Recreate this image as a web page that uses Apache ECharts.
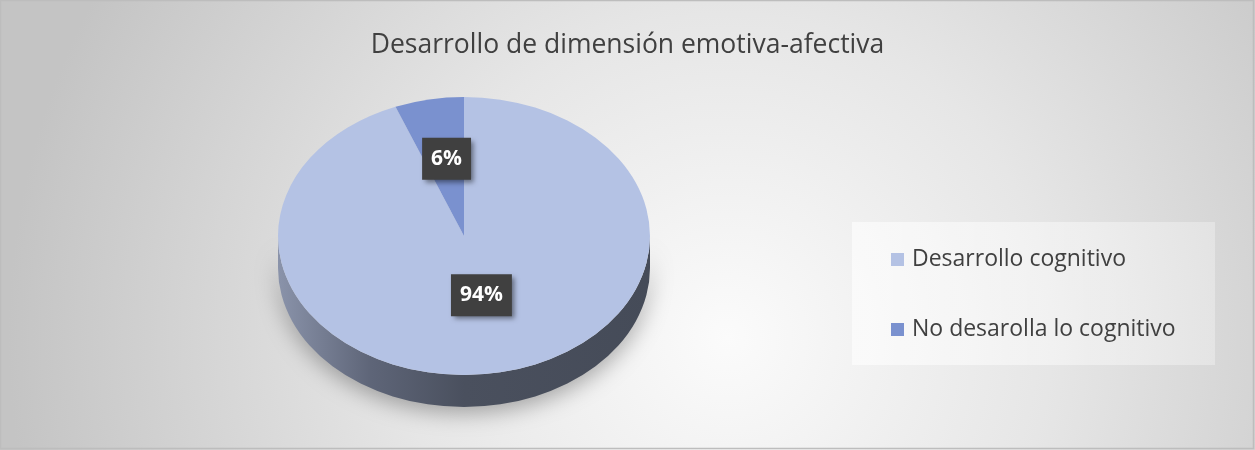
<!DOCTYPE html>
<html>
<head>
<meta charset="utf-8">
<script src="https://cdn.jsdelivr.net/npm/echarts@6/dist/echarts.min.js"></script>
<style>
  html, body { margin: 0; padding: 0; background: #ffffff; }
  #chart { width: 1255px; height: 450px; }
</style>
</head>
<body>
<div id="chart"></div>
<script>
// Categories and their shares (percent)
const categories = ['Desarrollo cognitivo', 'No desarolla lo cognitivo'];
const values = [94, 6];
const sliceColors = ['#b4c2e4', '#7a91cf'];
const titleText = 'Desarrollo de dimensión emotiva-afectiva';

const FONT = '"Open Sans", Lato, sans-serif';

// Tilted pie geometry: top face ellipse and wall depth
const CX = 464, CY = 236, RX = 186, RY = 139, DEPTH = 32;

const total = values.reduce((a, b) => a + b, 0);

function pt(theta, dy) {
  // theta measured clockwise from 12 o'clock
  return [CX + RX * Math.sin(theta), CY - RY * Math.cos(theta) + (dy || 0)];
}

function renderSlice(params, api) {
  const i = params.seriesIndex;
  let before = 0;
  for (let k = 0; k < i; k++) before += values[k];
  const v = api.value(0);
  const t0 = before / total * Math.PI * 2;
  const t1 = (before + v) / total * Math.PI * 2;
  const color = api.visual('color');
  const children = [];

  // front wall (visible from 3 o'clock through 6 to 9 o'clock)
  const a = Math.max(t0, Math.PI / 2);
  const b = Math.min(t1, Math.PI * 3 / 2);
  if (a < b) {
    const pa = pt(a), pb = pt(b), qa = pt(a, DEPTH), qb = pt(b, DEPTH);
    const d = 'M' + pa[0] + ' ' + pa[1] +
      ' A' + RX + ' ' + RY + ' 0 0 1 ' + pb[0] + ' ' + pb[1] +
      ' L' + qb[0] + ' ' + qb[1] +
      ' A' + RX + ' ' + RY + ' 0 0 0 ' + qa[0] + ' ' + qa[1] + ' Z';
    children.push({
      type: 'path',
      z2: 1,
      shape: { pathData: d },
      style: {
        fill: {
          type: 'linear', global: true,
          x: CX - RX, y: 0, x2: CX + RX, y2: 0,
          colorStops: [
            { offset: 0, color: '#8a93aa' },
            { offset: 0.25, color: '#5e6578' },
            { offset: 0.5, color: '#4a505e' },
            { offset: 1, color: '#454b58' }
          ]
        },
        shadowBlur: 22,
        shadowColor: 'rgba(0,0,0,0.32)',
        shadowOffsetY: 6
      }
    });
  }

  // top face
  children.push({
    type: 'sector',
    z2: 10,
    x: CX, y: CY,
    scaleY: RY / RX,
    shape: {
      cx: 0, cy: 0, r0: 0, r: RX,
      startAngle: t0 - Math.PI / 2,
      endAngle: t1 - Math.PI / 2,
      clockwise: true
    },
    style: { fill: color }
  });

  // value label
  const mid = (t0 + t1) / 2;
  const lp = [CX + 0.5 * RX * Math.sin(mid), CY - 0.5 * RY * Math.cos(mid) - 9];
  children.push({
    type: 'text',
    z2: 20,
    x: lp[0], y: lp[1],
    style: {
      text: Math.round(v / total * 100) + '%',
      align: 'center',
      verticalAlign: 'middle',
      fill: '#ffffff',
      font: 'bold 21px ' + FONT,
      backgroundColor: '#404040',
      padding: [11, 9, 10, 9],
      shadowColor: 'rgba(0,0,0,0.45)',
      shadowBlur: 5,
      shadowOffsetX: 3,
      shadowOffsetY: 3
    }
  });

  return { type: 'group', children: children };
}

const chart = echarts.init(document.getElementById('chart'), null, { renderer: 'canvas' });

chart.setOption({
  animation: false,
  backgroundColor: {
    type: 'radial', x: 0.58, y: 0.75, r: 1.6,
    colorStops: [
      { offset: 0, color: '#fbfbfb' },
      { offset: 0.45, color: '#e6e6e6' },
      { offset: 1, color: '#c4c4c4' }
    ]
  },
  title: {
    text: titleText,
    left: 'center',
    top: 27,
    textStyle: { fontFamily: FONT, fontSize: 26.5, fontWeight: 'normal', color: '#404040' }
  },
  legend: {
    orient: 'vertical',
    left: 886,
    top: 243,
    icon: 'rect',
    itemWidth: 13,
    itemHeight: 13,
    itemGap: 47,
    data: categories,
    textStyle: { fontFamily: FONT, fontSize: 23, color: '#404040', padding: [0, 0, 0, 3] }
  },
  graphic: [
    {
      type: 'rect', z: -1, silent: true,
      shape: { x: 852, y: 222, width: 363, height: 143 },
      style: {
        fill: {
          type: 'linear', x: 0, y: 0, x2: 1, y2: 0,
          colorStops: [
            { offset: 0, color: 'rgba(255,255,255,0.6)' },
            { offset: 1, color: 'rgba(255,255,255,0.3)' }
          ]
        }
      }
    },
    {
      type: 'rect', z: 100, silent: true,
      shape: { x: 0.5, y: 0.5, width: 1253, height: 448 },
      style: { fill: 'none', stroke: '#bdbdbd', lineWidth: 1.5 }
    }
  ],
  series: categories.map((name, i) => ({
    type: 'custom',
    name: name,
    coordinateSystem: 'none',
    itemStyle: { color: sliceColors[i] },
    data: [[values[i]]],
    renderItem: renderSlice
  }))
});
</script>
</body>
</html>
